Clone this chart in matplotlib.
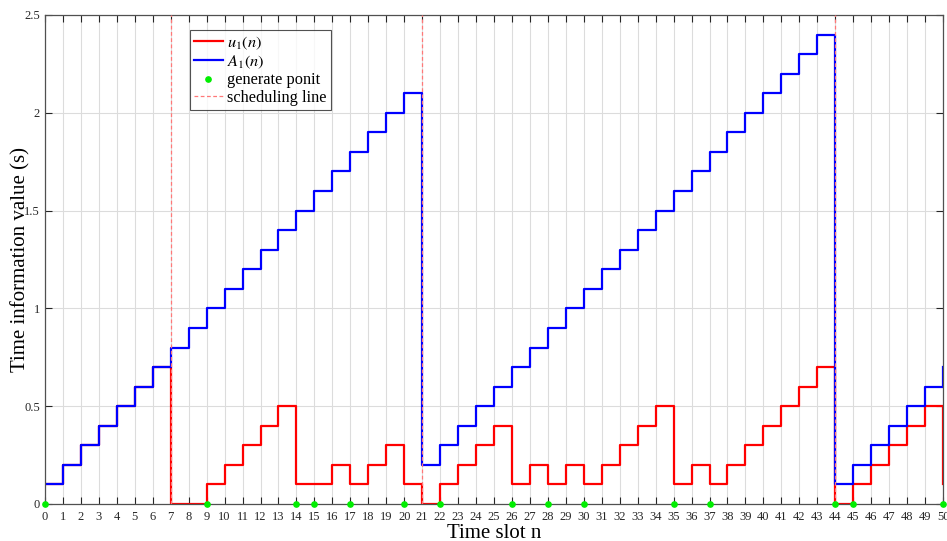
import numpy as np
import matplotlib.pyplot as plt

plt.rcParams['font.family'] = ['Liberation Serif', 'DejaVu Serif']
plt.rcParams['mathtext.fontset'] = 'stix'

n = np.arange(0, 51)
u1 = [0.1, 0.2, 0.3, 0.4, 0.5, 0.6, 0.7, 0.0, 0.0, 0.1,
      0.2, 0.3, 0.4, 0.5, 0.1, 0.1, 0.2, 0.1, 0.2, 0.3,
      0.1, 0.0, 0.1, 0.2, 0.3, 0.4, 0.1, 0.2, 0.1, 0.2,
      0.1, 0.2, 0.3, 0.4, 0.5, 0.1, 0.2, 0.1, 0.2, 0.3,
      0.4, 0.5, 0.6, 0.7, 0.0, 0.1, 0.2, 0.3, 0.4, 0.5,
      0.1]
A1 = [0.1, 0.2, 0.3, 0.4, 0.5, 0.6, 0.7, 0.8, 0.9, 1.0,
      1.1, 1.2, 1.3, 1.4, 1.5, 1.6, 1.7, 1.8, 1.9, 2.0,
      2.1, 0.2, 0.3, 0.4, 0.5, 0.6, 0.7, 0.8, 0.9, 1.0,
      1.1, 1.2, 1.3, 1.4, 1.5, 1.6, 1.7, 1.8, 1.9, 2.0,
      2.1, 2.2, 2.3, 2.4, 0.1, 0.2, 0.3, 0.4, 0.5, 0.6,
      0.7]
gen_points = [0, 9, 14, 15, 17, 20, 22, 26, 28, 30, 35, 37, 44, 45, 50]
sched_slots = [7, 21, 44]

fig = plt.figure(figsize=(9.47, 5.41), dpi=100)
ax = fig.add_axes([0.0475, 0.0684, 0.9483, 0.9039])

ax.step(n, u1, where='post', color='#ff0000', lw=1.6, label='$u_1(n)$')
ax.step(n, A1, where='post', color='#0000ff', lw=1.6, label='$A_1(n)$')
ax.plot(gen_points, np.zeros(len(gen_points)), 'o', color='#00ee00',
        ms=3.8, ls='none', label='generate ponit', zorder=5, clip_on=False)
for i, s in enumerate(sched_slots):
    ax.axvline(s, color='#ff7878', ls='--', lw=0.9, dashes=(3, 2),
               label='scheduling line' if i == 0 else None, zorder=4)

ax.set_xlim(0, 50)
ax.set_ylim(0, 2.5)
ax.set_xticks(np.arange(0, 51, 1))
ax.set_yticks(np.arange(0, 2.51, 0.5))
ax.set_yticklabels(['0', '0.5', '1', '1.5', '2', '2.5'])
ax.tick_params(direction='in', top=True, right=True, labelsize=9,
               length=5, width=0.8, colors='#262626')
ax.tick_params(axis='x', pad=5)
ax.grid(True, color='#dcdcdc', lw=0.8)
ax.set_axisbelow(True)
for sp in ax.spines.values():
    sp.set_color('#505050')
    sp.set_linewidth(0.9)

ax.set_xlabel('Time slot n', fontsize=15)
ax.set_ylabel('Time information value (s)', fontsize=15)
ax.xaxis.set_label_coords(0.5, -0.04)
ax.yaxis.set_label_coords(-0.016, 0.5)

leg = ax.legend(loc='upper left', bbox_to_anchor=(0.161, 0.969), fontsize=11.8,
                frameon=True, fancybox=False, edgecolor='#262626',
                handlelength=1.8, borderpad=0.25, labelspacing=0.1,
                handletextpad=0.25, borderaxespad=0)
leg.get_frame().set_linewidth(0.8)

fig.savefig('out.png', dpi=100)
